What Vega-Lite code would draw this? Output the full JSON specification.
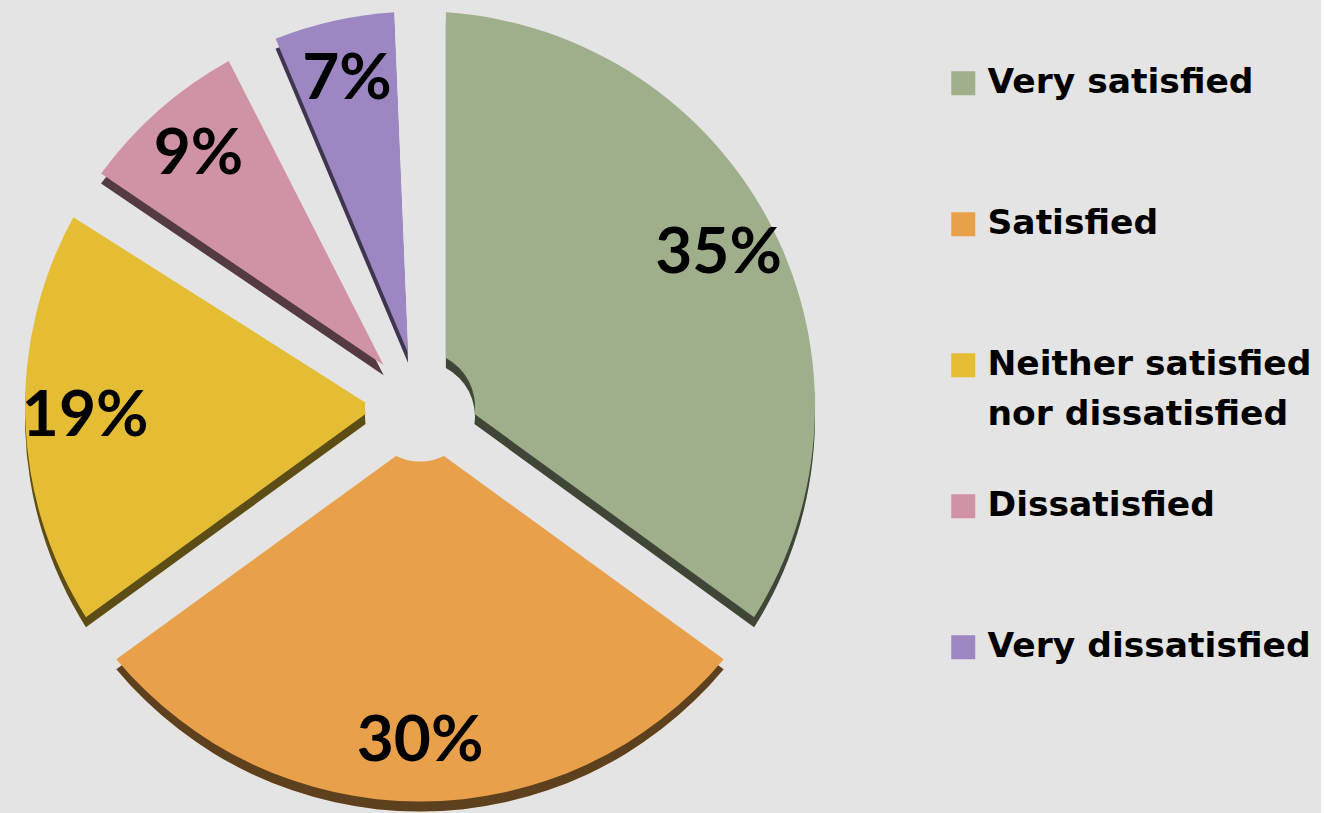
{
  "$schema": "https://vega.github.io/schema/vega-lite/v6.json",
  "width": 840,
  "height": 813,
  "padding": {"left": 0, "top": 0, "right": 9, "bottom": 0},
  "background": "#e4e4e4",
  "config": {
    "view": {"stroke": null},
    "style": {"guide-label": {"lineHeight": 50}}
  },
  "data": {
    "values": [
      {"category": "Very satisfied", "pct": 35, "rank": 1, "label": "35%"},
      {"category": "Satisfied", "pct": 30, "rank": 2, "label": "30%"},
      {"category": "Neither satisfied nor dissatisfied", "pct": 19, "rank": 3, "label": "19%"},
      {"category": "Dissatisfied", "pct": 9, "rank": 4, "label": "9%"},
      {"category": "Very dissatisfied", "pct": 7, "rank": 5, "label": "7%"}
    ]
  },
  "encoding": {
    "theta": {"field": "pct", "type": "quantitative", "stack": true},
    "order": {"field": "rank", "type": "quantitative"},
    "color": {
      "field": "category", "type": "nominal",
      "scale": {
        "domain": ["Very satisfied", "Satisfied", "Neither satisfied nor dissatisfied", "Dissatisfied", "Very dissatisfied"],
        "range": ["#9fae8b", "#e9a04a", "#e5bd35", "#d093a3", "#9c87c2"]
      },
      "legend": {
        "orient": "none",
        "legendX": 946,
        "legendY": 66,
        "title": null,
        "padding": 0,
        "symbolType": "square",
        "symbolSize": 576,
        "symbolStrokeWidth": 0,
        "symbolOpacity": 1,
        "labelFont": "DejaVu Sans",
        "labelFontSize": 34.5,
        "labelFontWeight": "bold",
        "labelColor": "black",
        "labelOffset": 7,
        "labelLimit": 600,
        "rowPadding": 56,
        "gridAlign": "all",
        "labelBaseline": "middle",
        "labelExpr": "datum.label == 'Neither satisfied nor dissatisfied' ? ['Neither satisfied', 'nor dissatisfied'] : datum.label"
      }
    }
  },
  "layer": [
    {
      "mark": {"type": "arc", "outerRadius": 395, "innerRadius": 55, "padAngle": 0.13, "yOffset": 10}
    },
    {
      "mark": {"type": "arc", "outerRadius": 395, "innerRadius": 55, "padAngle": 0.13, "yOffset": 10, "opacity": 0.6},
      "encoding": {"color": {"value": "black"}}
    },
    {
      "mark": {"type": "arc", "outerRadius": 395, "innerRadius": 55, "padAngle": 0.13}
    },
    {
      "mark": {"type": "text", "radius": 335, "font": "Lato", "fontSize": 64, "fontWeight": "bold", "align": "center", "baseline": "middle"},
      "encoding": {"text": {"field": "label", "type": "nominal"}, "color": {"value": "black"}}
    }
  ]
}
